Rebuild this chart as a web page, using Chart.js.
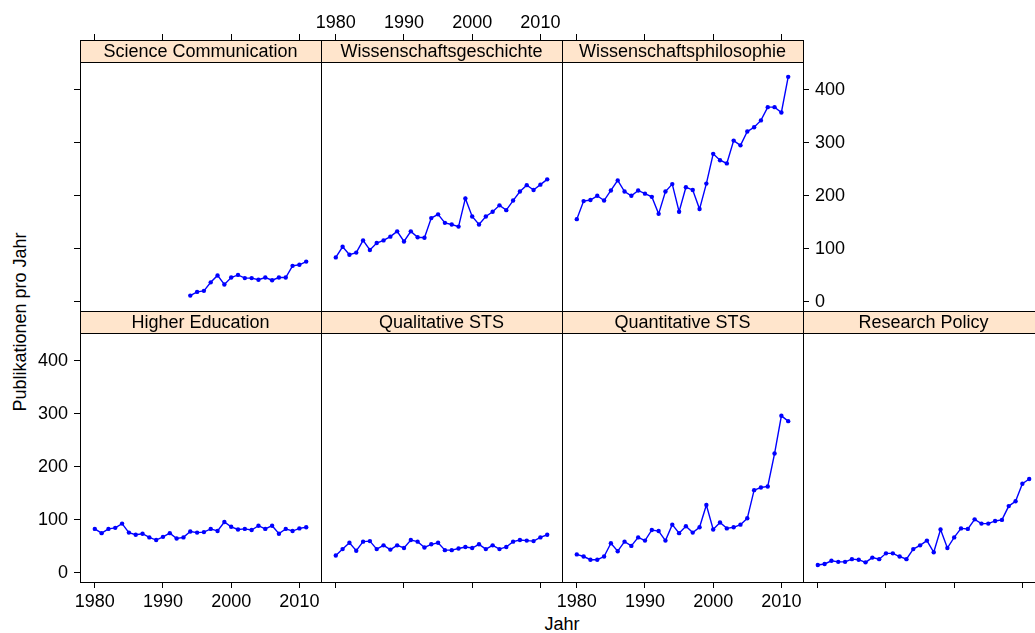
<!DOCTYPE html>
<html>
<head>
<meta charset="utf-8">
<script src="https://cdn.jsdelivr.net/npm/chart.js@4.4.1/dist/chart.umd.min.js"></script>
<style>
  html, body { margin: 0; padding: 0; background: #fff; }
  #wrap { position: relative; width: 1035px; height: 633px; overflow: hidden;
          font-family: "Liberation Sans", Arial, sans-serif; }
  #wrap canvas { position: absolute; left: 0; top: 0; }
  .lab { position: absolute; font-size: 18px; color: #000; white-space: nowrap; line-height: 20px; }
  #ylab { left: 20px; top: 322px; transform: translate(-50%, -50%) rotate(-90deg); }
  #xlab { left: 562px; top: 624px; transform: translate(-50%, -50%); }
</style>
</head>
<body>
<div id="wrap">
  <div class="lab" id="ylab">Publikationen pro Jahr</div>
  <div class="lab" id="xlab">Jahr</div>
</div>
<script>
// data
const years = [1980, 1981, 1982, 1983, 1984, 1985, 1986, 1987, 1988, 1989, 1990, 1991, 1992, 1993, 1994, 1995,
               1996, 1997, 1998, 1999, 2000, 2001, 2002, 2003, 2004, 2005, 2006, 2007, 2008, 2009, 2010, 2011];
const sciComm = [null, null, null, null, null, null, null, null, null, null, null, null, null, null,
                 12, 19, 21, 37, 50, 33, 46, 51, 45, 45, 42, 46, 41, 46, 46, 68, 70, 76];
const wissGesch = [84, 104, 89, 93, 116, 98, 111, 116, 123, 133, 114, 133, 122, 121, 158, 165,
                   149, 146, 142, 195, 161, 146, 161, 170, 182, 173, 191, 208, 220, 211, 221, 231];
const wissPhil = [156, 190, 192, 200, 191, 210, 229, 208, 200, 210, 204, 198, 166, 208, 222, 170,
                  216, 211, 175, 223, 279, 267, 261, 304, 295, 321, 329, 342, 367, 367, 357, 424];
const higherEd = [83, 75, 83, 85, 93, 76, 72, 74, 67, 62, 68, 75, 65, 67, 78, 76,
                  77, 83, 79, 96, 87, 82, 83, 81, 89, 83, 89, 74, 83, 79, 84, 86];
const qualSTS = [33, 45, 57, 42, 59, 60, 45, 52, 44, 52, 47, 62, 59, 48, 54, 57,
                 43, 43, 46, 49, 47, 54, 45, 52, 45, 49, 59, 62, 61, 60, 67, 72];
const quantSTS = [35, 31, 25, 25, 31, 56, 41, 59, 51, 67, 61, 81, 79, 61, 91, 75,
                  88, 76, 86, 128, 82, 95, 84, 86, 91, 103, 156, 161, 163, 225, 296, 286];
const resPolicy = [15, 17, 23, 21, 21, 26, 25, 20, 29, 26, 37, 37, 31, 26, 45, 52,
                   61, 39, 82, 47, 67, 84, 83, 101, 93, 93, 98, 100, 126, 135, 168, 177];
const xTicks = [1980, 1990, 2000, 2010];
const yTicks = [0, 100, 200, 300, 400];

const panels = [
  { title: 'Science Communication',     values: sciComm,   col: 0, row: 0 },
  { title: 'Wissenschaftsgeschichte',   values: wissGesch, col: 1, row: 0 },
  { title: 'Wissenschaftsphilosophie',  values: wissPhil,  col: 2, row: 0 },
  { title: 'Higher Education',          values: higherEd,  col: 0, row: 1 },
  { title: 'Qualitative STS',           values: qualSTS,   col: 1, row: 1 },
  { title: 'Quantitative STS',          values: quantSTS,  col: 2, row: 1 },
  { title: 'Research Policy',           values: resPolicy, col: 3, row: 1 }
];

// layout (pixels)
const colLeft = [80, 321, 562, 803];
const rowTop = [40, 311];
const panelW = 241, panelH = 249, stripH = 22;
const axisH = 35, axisW = 45;
const canvasW = 1100, canvasH = 633;
const xMin = 1977.83, xMax = 2013.17;
const yMin = -17, yTop = 452;
// the strip sits inside the chart area, above the data region
const yMax = yTop + (yTop - yMin) * stripH / panelH;
const font = { family: '"Liberation Sans", Arial, sans-serif', size: 18 };

const stripPlugin = {
  id: 'strip',
  afterDraw(chart, args, opts) {
    const a = chart.chartArea, ctx = chart.ctx;
    const w = a.right - a.left, h = a.bottom - a.top;
    ctx.save();
    ctx.fillStyle = '#FFE5CC';
    ctx.fillRect(a.left, a.top, w, stripH);
    ctx.strokeStyle = '#000';
    ctx.lineWidth = 1;
    ctx.strokeRect(a.left + 0.5, a.top + 0.5, w, h);
    ctx.beginPath();
    ctx.moveTo(a.left, a.top + stripH + 0.5);
    ctx.lineTo(a.right + 1, a.top + stripH + 0.5);
    ctx.stroke();
    ctx.fillStyle = '#000';
    ctx.font = font.size + 'px ' + font.family;
    ctx.textAlign = 'center';
    ctx.textBaseline = 'middle';
    ctx.fillText(opts.title, a.left + w / 2, a.top + stripH / 2 + 1);
    ctx.restore();
  }
};

function axisGrid() {
  return { drawOnChartArea: false, drawTicks: true, tickLength: 6, color: '#000', lineWidth: 1 };
}

const wrap = document.getElementById('wrap');

panels.forEach(p => {
  const hasTop = p.row === 0;
  const topLabels = p.row === 0 && p.col === 1;
  const hasBottom = p.row === 1;
  const bottomLabels = p.row === 1 && (p.col === 0 || p.col === 2);
  const hasLeft = p.col === 0;
  const leftLabels = p.col === 0 && p.row === 1;
  const hasRight = (p.row === 0 && p.col === 2) || (p.row === 1 && p.col === 3);

  const left = colLeft[p.col], top = rowTop[p.row];
  const padding = {
    left: left - (hasLeft ? axisW : 0),
    right: canvasW - (left + panelW) - (hasRight ? axisW : 0),
    top: top - (hasTop ? axisH : 0),
    bottom: canvasH - (top + stripH + panelH) - (hasBottom ? axisH : 0)
  };

  const pts = [];
  years.forEach((yr, i) => { if (p.values[i] !== null) pts.push({ x: yr, y: p.values[i] }); });

  const cv = document.createElement('canvas');
  cv.width = canvasW; cv.height = canvasH;
  cv.style.width = canvasW + 'px'; cv.style.height = canvasH + 'px';
  wrap.appendChild(cv);

  new Chart(cv, {
    type: 'line',
    data: {
      datasets: [{
        data: pts,
        borderColor: '#0000FF',
        backgroundColor: '#0000FF',
        borderWidth: 1.4,
        pointRadius: 2.2,
        pointBorderWidth: 0,
        pointHoverRadius: 2.2,
        tension: 0
      }]
    },
    options: {
      responsive: false,
      devicePixelRatio: 1,
      animation: false,
      events: [],
      layout: { padding: padding },
      plugins: { legend: { display: false }, tooltip: { enabled: false }, strip: { title: p.title } },
      scales: {
        x: {
          type: 'linear',
          position: hasTop ? 'top' : 'bottom',
          display: hasTop || hasBottom,
          min: xMin, max: xMax,
          afterBuildTicks: s => { s.ticks = xTicks.map(v => ({ value: v })); },
          afterFit: s => { if (s.options.display) s.height = axisH; },
          grid: axisGrid(),
          border: { display: false },
          ticks: {
            display: topLabels || bottomLabels,
            padding: hasTop ? 0 : 3, color: '#000', font: font,
            maxRotation: 0, autoSkip: false,
            callback: v => String(v)
          }
        },
        y: {
          type: 'linear',
          position: hasLeft ? 'left' : 'right',
          display: hasLeft || hasRight,
          min: yMin, max: yMax,
          afterBuildTicks: s => { s.ticks = yTicks.map(v => ({ value: v })); },
          afterFit: s => { if (s.options.display) s.width = axisW; },
          grid: axisGrid(),
          border: { display: false },
          ticks: {
            display: leftLabels || hasRight,
            padding: 6, color: '#000', font: font,
            callback: v => String(v)
          }
        }
      }
    },
    plugins: [stripPlugin]
  });
});
</script>
</body>
</html>
